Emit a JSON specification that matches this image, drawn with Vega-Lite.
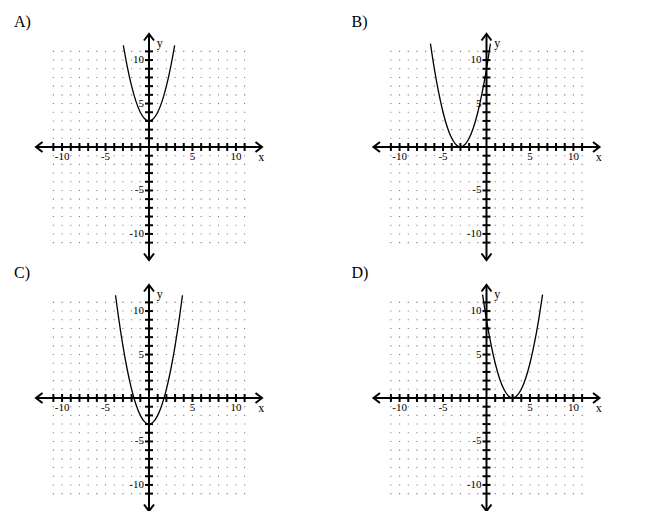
{
  "$schema": "https://vega.github.io/schema/vega-lite/v6.json",
  "padding": {"left": 14, "top": 13, "right": 5, "bottom": 5},
  "datasets": {
    "grid": [
      {"y": -11, "xs": [-11,-10,-9,-8,-7,-6,-5,-4,-3,-2,-1,0,1,2,3,4,5,6,7,8,9,10,11]},
      {"y": -10, "xs": [-11,-10,-9,-8,-7,-6,-5,-4,-3,-2,-1,0,1,2,3,4,5,6,7,8,9,10,11]},
      {"y": -9, "xs": [-11,-10,-9,-8,-7,-6,-5,-4,-3,-2,-1,0,1,2,3,4,5,6,7,8,9,10,11]},
      {"y": -8, "xs": [-11,-10,-9,-8,-7,-6,-5,-4,-3,-2,-1,0,1,2,3,4,5,6,7,8,9,10,11]},
      {"y": -7, "xs": [-11,-10,-9,-8,-7,-6,-5,-4,-3,-2,-1,0,1,2,3,4,5,6,7,8,9,10,11]},
      {"y": -6, "xs": [-11,-10,-9,-8,-7,-6,-5,-4,-3,-2,-1,0,1,2,3,4,5,6,7,8,9,10,11]},
      {"y": -5, "xs": [-11,-10,-9,-8,-7,-6,-5,-4,-3,-2,-1,0,1,2,3,4,5,6,7,8,9,10,11]},
      {"y": -4, "xs": [-11,-10,-9,-8,-7,-6,-5,-4,-3,-2,-1,0,1,2,3,4,5,6,7,8,9,10,11]},
      {"y": -3, "xs": [-11,-10,-9,-8,-7,-6,-5,-4,-3,-2,-1,0,1,2,3,4,5,6,7,8,9,10,11]},
      {"y": -2, "xs": [-11,-10,-9,-8,-7,-6,-5,-4,-3,-2,-1,0,1,2,3,4,5,6,7,8,9,10,11]},
      {"y": -1, "xs": [-11,-10,-9,-8,-7,-6,-5,-4,-3,-2,-1,0,1,2,3,4,5,6,7,8,9,10,11]},
      {"y": 1, "xs": [-11,-10,-9,-8,-7,-6,-5,-4,-3,-2,-1,0,1,2,3,4,5,6,7,8,9,10,11]},
      {"y": 2, "xs": [-11,-10,-9,-8,-7,-6,-5,-4,-3,-2,-1,0,1,2,3,4,5,6,7,8,9,10,11]},
      {"y": 3, "xs": [-11,-10,-9,-8,-7,-6,-5,-4,-3,-2,-1,0,1,2,3,4,5,6,7,8,9,10,11]},
      {"y": 4, "xs": [-11,-10,-9,-8,-7,-6,-5,-4,-3,-2,-1,0,1,2,3,4,5,6,7,8,9,10,11]},
      {"y": 5, "xs": [-11,-10,-9,-8,-7,-6,-5,-4,-3,-2,-1,0,1,2,3,4,5,6,7,8,9,10,11]},
      {"y": 6, "xs": [-11,-10,-9,-8,-7,-6,-5,-4,-3,-2,-1,0,1,2,3,4,5,6,7,8,9,10,11]},
      {"y": 7, "xs": [-11,-10,-9,-8,-7,-6,-5,-4,-3,-2,-1,0,1,2,3,4,5,6,7,8,9,10,11]},
      {"y": 8, "xs": [-11,-10,-9,-8,-7,-6,-5,-4,-3,-2,-1,0,1,2,3,4,5,6,7,8,9,10,11]},
      {"y": 9, "xs": [-11,-10,-9,-8,-7,-6,-5,-4,-3,-2,-1,0,1,2,3,4,5,6,7,8,9,10,11]},
      {"y": 10, "xs": [-11,-10,-9,-8,-7,-6,-5,-4,-3,-2,-1,0,1,2,3,4,5,6,7,8,9,10,11]},
      {"y": 11, "xs": [-11,-10,-9,-8,-7,-6,-5,-4,-3,-2,-1,0,1,2,3,4,5,6,7,8,9,10,11]}
    ],
    "axes": [
      {"x": -13, "x2": 13, "y": 0, "y2": 0},
      {"x": 0, "x2": 0, "y": -13, "y2": 13}
    ],
    "ticks": [
      {"v": -11}, {"v": -10}, {"v": -9}, {"v": -8}, {"v": -7}, {"v": -6}, {"v": -5}, {"v": -4}, {"v": -3}, {"v": -2}, {"v": -1},
      {"v": 1}, {"v": 2}, {"v": 3}, {"v": 4}, {"v": 5}, {"v": 6}, {"v": 7}, {"v": 8}, {"v": 9}, {"v": 10}, {"v": 11}
    ],
    "arrows": [
      {"x": -13, "y": 0, "d": "left"},
      {"x": 13, "y": 0, "d": "right"},
      {"x": 0, "y": 13, "d": "up"},
      {"x": 0, "y": -13, "d": "down"}
    ],
    "labels": [
      {"v": -10, "t": "-10"},
      {"v": -5, "t": "-5"},
      {"v": 5, "t": "5"},
      {"v": 10, "t": "10"}
    ],
    "names": [
      {"x": 12.9, "y": -1.15, "t": "x"},
      {"x": 1.25, "y": 12, "t": "y"}
    ],
    "panels": [
      {"A": "A)", "B": "B)", "C": "C)", "D": "D)"}
    ],
    "curves": [
      {"x": -2.95, "A": 11.7}, {"x": -2.5, "A": 9.25}, {"x": -2, "A": 7}, {"x": -1.5, "A": 5.25},
      {"x": -1, "A": 4}, {"x": -0.5, "A": 3.25}, {"x": 0, "A": 3}, {"x": 0.5, "A": 3.25},
      {"x": 1, "A": 4}, {"x": 1.5, "A": 5.25}, {"x": 2, "A": 7}, {"x": 2.5, "A": 9.25}, {"x": 2.95, "A": 11.7},
      {"x": -6.45, "B": 11.9}, {"x": -6, "B": 9}, {"x": -5.5, "B": 6.25}, {"x": -5, "B": 4},
      {"x": -4.5, "B": 2.25}, {"x": -4, "B": 1}, {"x": -3.5, "B": 0.25}, {"x": -3, "B": 0},
      {"x": -2.5, "B": 0.25}, {"x": -2, "B": 1}, {"x": -1.5, "B": 2.25}, {"x": -1, "B": 4},
      {"x": -0.5, "B": 6.25}, {"x": 0, "B": 9}, {"x": 0.45, "B": 11.9},
      {"x": -3.85, "C": 11.82}, {"x": -3.5, "C": 9.25}, {"x": -3, "C": 6}, {"x": -2.5, "C": 3.25},
      {"x": -2, "C": 1}, {"x": -1.5, "C": -0.75}, {"x": -1, "C": -2}, {"x": -0.5, "C": -2.75},
      {"x": 0, "C": -3}, {"x": 0.5, "C": -2.75}, {"x": 1, "C": -2}, {"x": 1.5, "C": -0.75},
      {"x": 2, "C": 1}, {"x": 2.5, "C": 3.25}, {"x": 3, "C": 6}, {"x": 3.5, "C": 9.25}, {"x": 3.85, "C": 11.82},
      {"x": -0.45, "D": 11.9}, {"x": 0, "D": 9}, {"x": 0.5, "D": 6.25}, {"x": 1, "D": 4},
      {"x": 1.5, "D": 2.25}, {"x": 2, "D": 1}, {"x": 2.5, "D": 0.25}, {"x": 3, "D": 0},
      {"x": 3.5, "D": 0.25}, {"x": 4, "D": 1}, {"x": 4.5, "D": 2.25}, {"x": 5, "D": 4},
      {"x": 5.5, "D": 6.25}, {"x": 6, "D": 9}, {"x": 6.45, "D": 11.9}
    ]
  },
  "repeat": ["A", "B", "C", "D"],
  "columns": 2,
  "spacing": {"row": 25, "column": 111.5},
  "bounds": "flush",
  "spec": {
    "width": 226,
    "height": 226,
    "layer": [
      {
        "data": {"name": "grid"},
        "transform": [{"flatten": ["xs"], "as": ["x"]}],
        "mark": {"type": "point", "shape": "square", "size": 1.2, "filled": true, "color": "#777", "opacity": 1},
        "encoding": {
          "x": {"field": "x", "type": "quantitative", "scale": {"domain": [-13, 13], "nice": false, "zero": false}, "axis": null},
          "y": {"field": "y", "type": "quantitative", "scale": {"domain": [-13, 13], "nice": false, "zero": false}, "axis": null}
        }
      },
      {
        "data": {"name": "axes"},
        "mark": {"type": "rule", "color": "black", "strokeWidth": 2},
        "encoding": {
          "x": {"field": "x", "type": "quantitative", "scale": {"domain": [-13, 13], "nice": false, "zero": false}, "axis": null},
          "x2": {"field": "x2"},
          "y": {"field": "y", "type": "quantitative", "scale": {"domain": [-13, 13], "nice": false, "zero": false}, "axis": null},
          "y2": {"field": "y2"}
        }
      },
      {
        "data": {"name": "ticks"},
        "mark": {"type": "tick", "orient": "vertical", "size": 8, "thickness": 2, "color": "black", "opacity": 1},
        "encoding": {
          "x": {"field": "v", "type": "quantitative", "scale": {"domain": [-13, 13], "nice": false, "zero": false}, "axis": null},
          "y": {"datum": 0, "type": "quantitative", "scale": {"domain": [-13, 13], "nice": false, "zero": false}, "axis": null}
        }
      },
      {
        "data": {"name": "ticks"},
        "mark": {"type": "tick", "orient": "horizontal", "size": 8, "thickness": 2, "color": "black", "opacity": 1},
        "encoding": {
          "x": {"datum": 0, "type": "quantitative", "scale": {"domain": [-13, 13], "nice": false, "zero": false}, "axis": null},
          "y": {"field": "v", "type": "quantitative", "scale": {"domain": [-13, 13], "nice": false, "zero": false}, "axis": null}
        }
      },
      {
        "data": {"name": "arrows"},
        "mark": {"type": "point", "filled": false, "size": 100, "stroke": "black", "strokeWidth": 2, "opacity": 1},
        "encoding": {
          "x": {"field": "x", "type": "quantitative", "scale": {"domain": [-13, 13], "nice": false, "zero": false}, "axis": null},
          "y": {"field": "y", "type": "quantitative", "scale": {"domain": [-13, 13], "nice": false, "zero": false}, "axis": null},
          "shape": {
            "field": "d",
            "type": "nominal",
            "scale": {
              "domain": ["left", "right", "up", "down"],
              "range": ["M1.3,-1L0,0L1.3,1", "M-1.3,-1L0,0L-1.3,1", "M-1,1.3L0,0L1,1.3", "M-1,-1.3L0,0L1,-1.3"]
            },
            "legend": null
          }
        }
      },
      {
        "data": {"name": "labels"},
        "mark": {"type": "text", "font": "Liberation Serif", "fontSize": 11, "align": "center", "baseline": "top", "dy": 4},
        "encoding": {
          "x": {"field": "v", "type": "quantitative", "scale": {"domain": [-13, 13], "nice": false, "zero": false}, "axis": null},
          "y": {"datum": 0, "type": "quantitative", "scale": {"domain": [-13, 13], "nice": false, "zero": false}, "axis": null},
          "text": {"field": "t"}
        }
      },
      {
        "data": {"name": "labels"},
        "mark": {"type": "text", "font": "Liberation Serif", "fontSize": 11, "align": "right", "baseline": "middle", "dx": -5},
        "encoding": {
          "x": {"datum": 0, "type": "quantitative", "scale": {"domain": [-13, 13], "nice": false, "zero": false}, "axis": null},
          "y": {"field": "v", "type": "quantitative", "scale": {"domain": [-13, 13], "nice": false, "zero": false}, "axis": null},
          "text": {"field": "t"}
        }
      },
      {
        "data": {"name": "names"},
        "mark": {"type": "text", "font": "Liberation Serif", "fontSize": 12, "align": "center", "baseline": "middle"},
        "encoding": {
          "x": {"field": "x", "type": "quantitative", "scale": {"domain": [-13, 13], "nice": false, "zero": false}, "axis": null},
          "y": {"field": "y", "type": "quantitative", "scale": {"domain": [-13, 13], "nice": false, "zero": false}, "axis": null},
          "text": {"field": "t"}
        }
      },
      {
        "data": {"name": "panels"},
        "mark": {"type": "text", "font": "Liberation Serif", "fontSize": 16, "align": "left", "baseline": "alphabetic"},
        "encoding": {
          "x": {"datum": -15.53, "type": "quantitative", "scale": {"domain": [-13, 13], "nice": false, "zero": false}, "axis": null},
          "y": {"datum": 13.86, "type": "quantitative", "scale": {"domain": [-13, 13], "nice": false, "zero": false}, "axis": null},
          "text": {"field": {"repeat": "repeat"}}
        }
      },
      {
        "data": {"name": "curves"},
        "mark": {"type": "line", "color": "black", "strokeWidth": 1.3, "interpolate": "natural", "invalid": "filter"},
        "encoding": {
          "x": {"field": "x", "type": "quantitative", "scale": {"domain": [-13, 13], "nice": false, "zero": false}, "axis": null},
          "y": {"field": {"repeat": "repeat"}, "type": "quantitative", "scale": {"domain": [-13, 13], "nice": false, "zero": false}, "axis": null}
        }
      }
    ]
  },
  "config": {
    "view": {"stroke": null},
    "background": "white"
  }
}
